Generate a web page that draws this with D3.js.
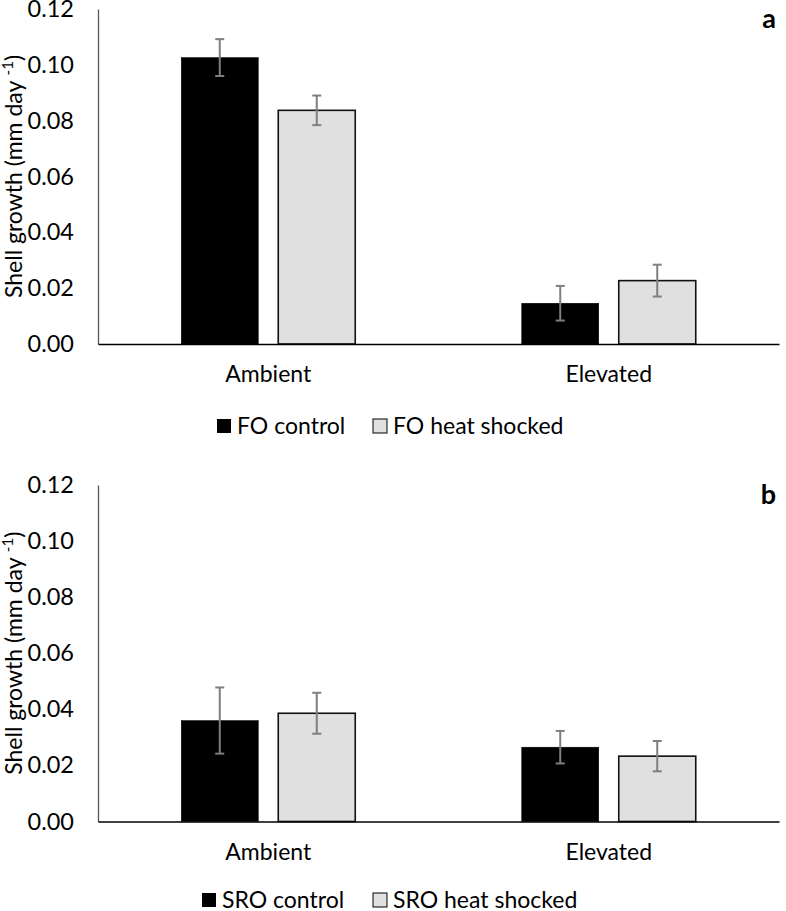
<!DOCTYPE html>
<html>
<head>
<meta charset="utf-8">
<script src="https://cdn.jsdelivr.net/npm/d3@7/dist/d3.min.js"></script>
<style>
  html, body { margin: 0; padding: 0; background: #fff; }
  svg text { font-family: Lato, "Open Sans", sans-serif; fill: #000; }
</style>
</head>
<body>
<svg id="chart" width="786" height="911"></svg>
<script>
// ---- data ----
const categories = ["Ambient", "Elevated"];
const yTicks = [0, 0.02, 0.04, 0.06, 0.08, 0.10, 0.12];
const yTitle = "Shell growth (mm day ";

const seriesA = ["FO control", "FO heat shocked"];
const controlA = [0.1026, 0.0146];
const controlErrA = [0.0066, 0.0062];
const heatA = [0.0837, 0.0227];
const heatErrA = [0.0053, 0.0057];

const seriesB = ["SRO control", "SRO heat shocked"];
const controlB = [0.0360, 0.0265];
const controlErrB = [0.0118, 0.0058];
const heatB = [0.0386, 0.0233];
const heatErrB = [0.0073, 0.0054];

const colors = ["#000000", "#e0e0e0"];

const svg = d3.select("#chart");

function panel(opts) {
  const { top, bottom, series, vals, errs, label, legendY } = opts;
  const g = svg.append("g");
  const x0 = d3.scaleBand().domain(categories).range([98, 779]);
  const x1 = d3.scaleBand().domain(series).range([0, 174]).paddingInner(20 / 97);
  const y = d3.scaleLinear().domain([0, 0.12]).range([bottom, top]);

  // y axis
  const ya = g.append("g").attr("transform", "translate(98,0)")
    .call(d3.axisLeft(y).tickValues(yTicks).tickSize(0).tickSizeOuter(0).tickPadding(24).tickFormat(d3.format(".2f")));
  ya.select(".domain").attr("stroke", "#595959").attr("stroke-width", 1.3);
  ya.selectAll(".tick text").attr("font-size", 23.5).attr("font-family", "Lato, 'Open Sans', sans-serif").attr("fill", "#000");

  // y title
  const t = g.append("text")
    .attr("transform", `translate(22,${(top + bottom) / 2}) rotate(-90)`)
    .attr("text-anchor", "middle")
    .attr("font-size", 23);
  t.append("tspan").text(yTitle);
  t.append("tspan").attr("font-size", 15).attr("dy", -9).text("-1");
  t.append("tspan").attr("dy", 9).text(")");

  // bars
  categories.forEach((c, i) => {
    const cx = x0(c) + x0.bandwidth() / 2 - 87;
    series.forEach((s, j) => {
      const v = vals[j][i], e = errs[j][i];
      const bx = cx + x1(s);
      g.append("rect")
        .attr("x", bx).attr("y", y(v))
        .attr("width", x1.bandwidth()).attr("height", y(0) - y(v))
        .attr("fill", colors[j])
        .attr("stroke", j === 0 ? "#000" : "#111")
        .attr("stroke-width", j === 0 ? 0.5 : 1.6);
      const ex = bx + x1.bandwidth() / 2;
      const eg = g.append("g").attr("stroke", "#7f7f7f").attr("stroke-width", 2);
      eg.append("line").attr("x1", ex).attr("x2", ex).attr("y1", y(v + e)).attr("y2", y(v - e));
      eg.append("line").attr("x1", ex - 4.5).attr("x2", ex + 4.5).attr("y1", y(v + e)).attr("y2", y(v + e));
      eg.append("line").attr("x1", ex - 4.5).attr("x2", ex + 4.5).attr("y1", y(v - e)).attr("y2", y(v - e));
    });
  });

  // x axis
  const xa = g.append("g").attr("transform", `translate(0,${y(0)})`)
    .call(d3.axisBottom(x0).tickSize(0).tickSizeOuter(0).tickPadding(22));
  xa.select(".domain").attr("stroke", "#000").attr("stroke-width", 1.3);
  xa.selectAll(".tick text").attr("font-size", 23).attr("font-family", "Lato, 'Open Sans', sans-serif").attr("fill", "#000");

  // panel label
  g.append("text").attr("x", 776).attr("y", top + 19).attr("text-anchor", "end")
    .attr("font-size", 27).attr("font-weight", "bold").text(label);

  // legend
  const lx = opts.legendX;
  series.forEach((s, j) => {
    g.append("rect").attr("x", lx[j]).attr("y", legendY - 7).attr("width", 14).attr("height", 14)
      .attr("fill", colors[j]).attr("stroke", "#000").attr("stroke-width", j === 0 ? 0 : 1);
    g.append("text").attr("x", lx[j] + 20).attr("y", legendY).attr("dy", "0.35em")
      .attr("font-size", 23).text(s);
  });
}

panel({ top: 9, bottom: 344, series: seriesA, vals: [controlA, heatA], errs: [controlErrA, heatErrA],
        label: "a", legendY: 426, legendX: [217, 373] });
panel({ top: 485, bottom: 821.5, series: seriesB, vals: [controlB, heatB], errs: [controlErrB, heatErrB],
        label: "b", legendY: 900, legendX: [202, 373] });
</script>
</body>
</html>
